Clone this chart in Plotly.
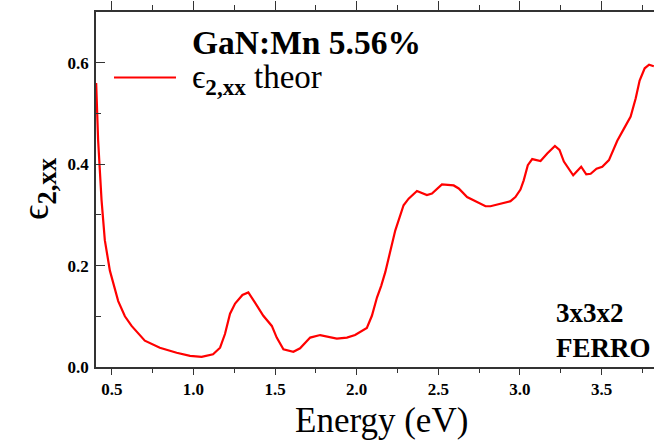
import plotly.graph_objects as go

# Imaginary part of the dielectric function, xx component (theory)
energy_ev = [0.404, 0.416, 0.437, 0.457, 0.488, 0.539, 0.580, 0.621, 0.702, 0.794,
             0.897, 0.979, 1.050, 1.120, 1.163, 1.193, 1.224, 1.255, 1.300, 1.336,
             1.377, 1.428, 1.480, 1.510, 1.551, 1.612, 1.653, 1.715, 1.776, 1.830,
             1.878, 1.940, 1.990, 2.062, 2.093, 2.124, 2.150, 2.175, 2.206, 2.236,
             2.287, 2.318, 2.369, 2.430, 2.461, 2.522, 2.594, 2.625, 2.676, 2.738,
             2.789, 2.819, 2.880, 2.942, 2.972, 3.003, 3.023, 3.048, 3.075, 3.126,
             3.167, 3.214, 3.242, 3.269, 3.326, 3.375, 3.406, 3.433, 3.469, 3.504,
             3.545, 3.596, 3.637, 3.678, 3.709, 3.733, 3.764, 3.791, 3.820]
eps2_xx = [0.560, 0.447, 0.329, 0.250, 0.190, 0.130, 0.100, 0.081, 0.052, 0.038,
           0.028, 0.022, 0.020, 0.025, 0.038, 0.065, 0.105, 0.125, 0.142, 0.147,
           0.127, 0.101, 0.081, 0.058, 0.035, 0.030, 0.037, 0.058, 0.063, 0.060,
           0.056, 0.058, 0.063, 0.077, 0.101, 0.137, 0.160, 0.187, 0.232, 0.269,
           0.319, 0.332, 0.347, 0.339, 0.342, 0.360, 0.358, 0.352, 0.335, 0.325,
           0.317, 0.317, 0.322, 0.327, 0.335, 0.350, 0.368, 0.398, 0.410, 0.406,
           0.421, 0.436, 0.428, 0.405, 0.378, 0.395, 0.380, 0.381, 0.391, 0.395,
           0.408, 0.446, 0.470, 0.494, 0.530, 0.565, 0.589, 0.596, 0.593]

x_range = [0.403, 3.821]
y_range = [0.0, 0.7]
x_ticks = [0.5, 1.0, 1.5, 2.0, 2.5, 3.0, 3.5]
x_ticklabels = ["0.5", "1.0", "1.5", "2.0", "2.5", "3.0", "3.5"]
y_ticks = [0.0, 0.2, 0.4, 0.6]
y_ticklabels = ["0.0", "0.2", "0.4", "0.6"]

SERIF = "Liberation Serif"
AXIS_COLOR = "#333333"
W, H = 654, 441
L, R, T, B = 96, 0, 12, 74
PW, PH = W - L - R, H - T - B


def px_x(p):
    return (p - L) / PW


def px_y(p):
    return (H - B - p) / PH


fig = go.Figure()
fig.add_trace(go.Scatter(x=energy_ev, y=eps2_xx, mode="lines",
                         line=dict(color="#ff0000", width=2.2),
                         name="ϵ2,xx theor", showlegend=False))
# invisible copy on the top axis so its ticks are drawn
fig.add_trace(go.Scatter(x=energy_ev, y=eps2_xx, mode="lines", xaxis="x2",
                         line=dict(color="rgba(0,0,0,0)", width=0),
                         hoverinfo="skip", showlegend=False))

tickfont = dict(family=SERIF, size=17, color="black", weight="bold")

fig.update_layout(
    width=W, height=H,
    margin=dict(l=L, r=R, t=T, b=B),
    paper_bgcolor="white", plot_bgcolor="white",
    font=dict(family=SERIF, color="black"),
    xaxis=dict(range=x_range, tickvals=x_ticks, ticktext=x_ticklabels,
               ticks="outside", ticklen=6, tickwidth=1.3, tickcolor=AXIS_COLOR,
               minor=dict(dtick=0.25, tick0=0.25, ticks="outside", ticklen=4,
                          tickwidth=1.3, tickcolor=AXIS_COLOR),
               showline=True, linecolor=AXIS_COLOR, linewidth=1.6,
               showgrid=False, zeroline=False, tickfont=tickfont),
    xaxis2=dict(range=x_range, overlaying="x", side="top", tickvals=x_ticks,
                showticklabels=False, ticks="outside", ticklen=9, tickwidth=1.3,
                tickcolor=AXIS_COLOR,
                minor=dict(dtick=0.25, tick0=0.25, ticks="outside", ticklen=5,
                           tickwidth=1.3, tickcolor=AXIS_COLOR),
                showline=True, linecolor=AXIS_COLOR, linewidth=1.6,
                showgrid=False, zeroline=False),
    yaxis=dict(range=y_range, tickvals=y_ticks, ticktext=y_ticklabels,
               ticks="inside", ticklen=9, tickwidth=1.3, tickcolor=AXIS_COLOR,
               minor=dict(dtick=0.1, ticks="inside", ticklen=5, tickwidth=1.3,
                          tickcolor=AXIS_COLOR),
               showline=True, linecolor=AXIS_COLOR, linewidth=1.6,
               showgrid=False, zeroline=False, ticklabelstandoff=2,
               tickfont=tickfont),
)

# legend sample line
fig.add_shape(type="line", xref="paper", yref="paper",
              x0=px_x(114), x1=px_x(176), y0=px_y(77.5), y1=px_y(77.5),
              line=dict(color="#ff0000", width=2.2))

annotations = [
    dict(text="<b>GaN:Mn 5.56%</b>", x=px_x(190), y=px_y(42),
         xanchor="left", yanchor="middle", size=33.5),
    dict(text="ϵ<sub><b>2,xx</b></sub> theor", x=px_x(190), y=px_y(80),
         xanchor="left", yanchor="middle", size=33),
    dict(text="<b>3x3x2<br>FERRO</b>", x=px_x(653), y=px_y(330),
         xanchor="right", yanchor="middle", align="left", size=27),
    dict(text="Energy (eV)", x=px_x(381), y=px_y(420),
         xanchor="center", yanchor="middle", size=35),
    dict(text="ϵ<sub><b>2,xx</b></sub>", x=px_x(38), y=px_y(189), textangle=-90,
         xanchor="center", yanchor="middle", size=38),
]
for a in annotations:
    size = a.pop("size")
    fig.add_annotation(xref="paper", yref="paper", showarrow=False,
                       font=dict(family=SERIF, size=size, color="black"), **a)

fig.write_html("out.html")
